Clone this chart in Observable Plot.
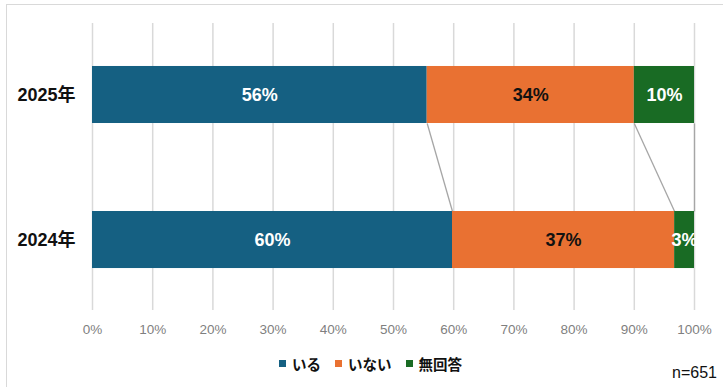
<!DOCTYPE html>
<html>
<head>
<meta charset="utf-8">
<script src="https://cdn.jsdelivr.net/npm/d3@7"></script>
<script src="https://cdn.jsdelivr.net/npm/@observablehq/plot@0.6"></script>
<style>
  html, body { margin: 0; padding: 0; background: #fff; }
  #wrap { position: relative; width: 723px; height: 387px; overflow: hidden;
    font-family: "Liberation Sans", Arial, "Noto Sans CJK JP", sans-serif; }
  #border { position: absolute; left: 6px; top: 3.5px; width: 800px; height: 500px;
    border-left: 1.5px solid #d9d9d9; border-top: 1.5px solid #d9d9d9; }
  #chart { position: absolute; left: 0; top: 0; }
  #legend { position: absolute; left: 279px; top: 353px; display: flex; align-items: center;
    font-weight: bold; font-size: 14.5px; color: #111; }
  .item { display: flex; align-items: center; margin-right: 14px; }
  .sw { width: 7px; height: 7px; margin-right: 6px; }
  #note { position: absolute; right: 6px; top: 364px; font-size: 16px; color: #111; }
</style>
</head>
<body>
<div id="wrap">
  <div id="border"></div>
  <div id="chart"></div>
  <div id="legend"></div>
  <div id="note"></div>
</div>
<script>
const years = ["2025年", "2024年"];
const categories = ["いる", "いない", "無回答"];
const iru = [55.6, 59.8];
const inai = [34.4, 36.9];
const mukaitou = [10.0, 3.3];
const xTicks = [0, 10, 20, 30, 40, 50, 60, 70, 80, 90, 100];
const sampleNote = "n=651";

const colors = ["#156082", "#E97132", "#196B24"];
const labelColors = ["#ffffff", "#111111", "#ffffff"];
const half = 0.1966;

const series = [iru, inai, mukaitou];
const rows = [];
years.forEach((year, i) => {
  let start = 0;
  series.forEach((vals, k) => {
    const v = vals[i];
    rows.push({year, i, cat: categories[k], k, start, end: start + v, value: v});
    start += v;
  });
});

// connector lines between cumulative boundaries of consecutive years
const links = [];
for (let k = 0; k < categories.length; k++) {
  const a = rows.find(r => r.i === 0 && r.k === k);
  const b = rows.find(r => r.i === 1 && r.k === k);
  links.push({x1: a.end, x2: b.end, y1: a.i + half, y2: b.i - half});
}

const yearRows = years.map((year, i) => ({year, i}));

const chart = Plot.plot({
  width: 723,
  height: 387,
  marginLeft: 92,
  marginRight: 29,
  marginTop: 23,
  marginBottom: 77,
  style: {fontFamily: "'Liberation Sans', Arial, 'Noto Sans CJK JP', sans-serif", fontSize: "13.5px", background: "transparent"},
  x: {domain: [0, 100], axis: null},
  y: {domain: [-0.493, 1.486], reverse: true, axis: null},
  color: {domain: categories, range: colors},
  marks: [
    Plot.ruleX(xTicks, {stroke: "#d9d9d9", strokeWidth: 1.5}),
    Plot.axisX(xTicks, {tickSize: 0, tickPadding: 14, tickFormat: d => d + "%", color: "#7f7f7f", fontSize: 13.5, label: null}),
    Plot.link(links, {x1: "x1", x2: "x2", y1: "y1", y2: "y2", stroke: "#a6a6a6", strokeWidth: 1.3}),
    Plot.rectX(rows, {x1: "start", x2: "end", y1: d => d.i - half, y2: d => d.i + half, fill: "cat"}),
    Plot.text(rows, {x: d => (d.start + d.end) / 2, y: "i", text: d => Math.round(d.value) + "%",
      fill: d => labelColors[d.k], fontSize: 18, fontWeight: "bold"}),
    Plot.text(yearRows, {x: 0, y: "i", text: "year", dx: -17, textAnchor: "end", fill: "#111", fontSize: 18, fontWeight: "bold"})
  ]
});
document.getElementById("chart").appendChild(chart);

const legend = document.getElementById("legend");
categories.forEach((c, k) => {
  const item = document.createElement("div");
  item.className = "item";
  const sw = document.createElement("div");
  sw.className = "sw";
  sw.style.background = colors[k];
  const t = document.createElement("span");
  t.textContent = c;
  item.appendChild(sw);
  item.appendChild(t);
  legend.appendChild(item);
});
document.getElementById("note").textContent = sampleNote;
</script>
</body>
</html>
